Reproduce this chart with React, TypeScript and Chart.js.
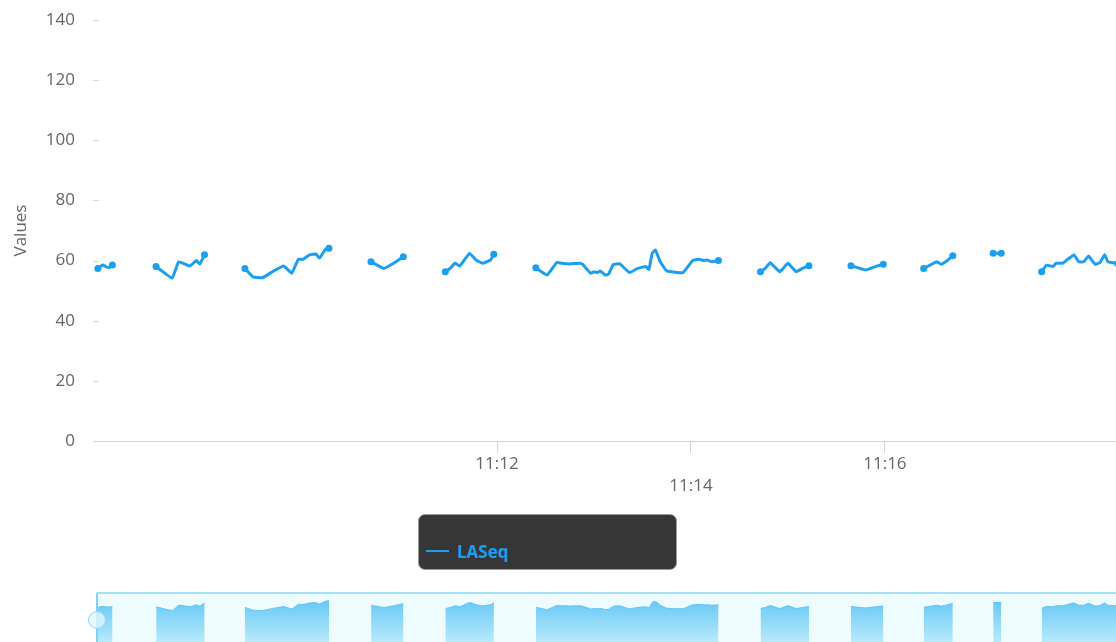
import React, { useEffect, useRef } from 'react';
import { Chart, registerables } from 'chart.js';

Chart.register(...registerables);

// ---- data ----
const seriesName = 'LASeq';
const yAxisTitle = 'Values';
const times = [
  '11:07:53', '11:07:56', '11:07:58', '11:08:00', '11:08:02',
  '11:08:29', '11:08:39', '11:08:43', '11:08:50', '11:08:54', '11:08:56', '11:08:59',
  '11:09:24', '11:09:29', '11:09:35', '11:09:41', '11:09:48', '11:09:53', '11:09:57', '11:10:00', '11:10:04', '11:10:08', '11:10:10', '11:10:14', '11:10:16',
  '11:10:42', '11:10:50', '11:10:56', '11:11:02',
  '11:11:28', '11:11:31', '11:11:34', '11:11:37', '11:11:43', '11:11:47', '11:11:51', '11:11:56', '11:11:58',
  '11:12:24', '11:12:31', '11:12:37', '11:12:40', '11:12:45', '11:12:51', '11:12:53', '11:12:58', '11:13:00', '11:13:02', '11:13:04', '11:13:07', '11:13:09', '11:13:12', '11:13:16', '11:13:22', '11:13:27', '11:13:32', '11:13:34', '11:13:36', '11:13:38', '11:13:41', '11:13:45', '11:13:55', '11:14:01', '11:14:05', '11:14:08', '11:14:10', '11:14:13', '11:14:17',
  '11:14:43', '11:14:46', '11:14:49', '11:14:55', '11:15:00', '11:15:05', '11:15:09', '11:15:13',
  '11:15:39', '11:15:48', '11:15:54', '11:15:59',
  '11:16:24', '11:16:28', '11:16:32', '11:16:35', '11:16:39', '11:16:42',
  '11:17:07', '11:17:12',
  '11:17:37', '11:17:40', '11:17:44', '11:17:46', '11:17:50', '11:17:53', '11:17:57', '11:18:00', '11:18:03', '11:18:06', '11:18:10', '11:18:13', '11:18:16', '11:18:18', '11:18:21', '11:18:24',
];
const laseq = [
  57.4, 58.5, 58.0, 57.7, 58.5,
  58.0, 54.2, 59.6, 58.2, 60.0, 58.8, 61.9,
  57.4, 54.6, 54.3, 56.3, 58.2, 55.8, 60.4, 60.4, 61.9, 62.2, 60.8, 63.8, 64.1,
  59.6, 57.4, 59.1, 61.3,
  56.3, 57.4, 59.1, 58.2, 62.4, 60.2, 59.1, 60.2, 62.1,
  57.6, 55.2, 59.4, 59.1, 58.9, 59.1, 58.7, 55.8, 56.3, 56.0, 56.5, 55.2, 55.5, 58.7, 58.9, 56.0, 57.4, 58.0, 57.1, 62.4, 63.5, 59.6, 56.6, 56.0, 60.0, 60.4, 60.0, 60.2, 59.6, 60.0,
  56.3, 57.4, 59.3, 56.3, 59.1, 56.3, 57.4, 58.3,
  58.3, 56.9, 58.0, 58.8,
  57.4, 58.5, 59.6, 58.8, 60.2, 61.6,
  62.4, 62.4,
  56.3, 58.5, 58.0, 59.1, 59.1, 60.4, 61.9, 59.6, 59.6, 61.5, 58.8, 59.3, 61.9, 59.6, 59.3, 59.0,
];
const xTickTimes = ['11:12', '11:14', '11:16'];
const yTicks = [0, 20, 40, 60, 80, 100, 120, 140];
const mainRange = ['11:07:50', '11:18:23'];
const navRange = ['11:07:53', '11:18:23'];
const navYMax = 71;
const gapSeconds = 15;

// ---- style ----
const FONT = "'Open Sans', sans-serif";
const BLUE = '#1c9ff0';
const AXIS = '#ccd6eb';
const TEXT = '#666666';

const toSec = (t: string) => {
  const [h, m, s = '0'] = t.split(':');
  return +h * 3600 + +m * 60 + +s;
};
const fmt = (v: number) => {
  const h = Math.floor(v / 3600);
  const m = Math.floor((v % 3600) / 60);
  return `${h}:${String(m).padStart(2, '0')}`;
};

function buildPoints() {
  const pts: { x: number; y: number | null }[] = [];
  for (let i = 0; i < times.length; i++) {
    const s = toSec(times[i]);
    if (i > 0) {
      const p = toSec(times[i - 1]);
      if (s - p > gapSeconds) pts.push({ x: (s + p) / 2, y: null });
    }
    pts.push({ x: s, y: laseq[i] });
  }
  return pts;
}

const yTickMarks = {
  id: 'yTickMarks',
  beforeDatasetsDraw(chart: any) {
    const { ctx, chartArea, scales } = chart;
    const y = scales.y;
    ctx.save();
    ctx.strokeStyle = AXIS;
    ctx.lineWidth = 1;
    y.ticks.forEach((t: any) => {
      if (t.value === 0) return;
      const py = Math.round(y.getPixelForValue(t.value)) + 0.5;
      ctx.beginPath();
      ctx.moveTo(chartArea.left, py);
      ctx.lineTo(chartArea.left + 6, py);
      ctx.stroke();
    });
    ctx.restore();
  },
};

export default function App() {
  const mainRef = useRef<HTMLCanvasElement>(null);
  const navRef = useRef<HTMLCanvasElement>(null);

  useEffect(() => {
    const pts = buildPoints();
    const endRadius = (ctx: any) => {
      const d = ctx.dataset.data;
      const i = ctx.dataIndex;
      if (!d[i] || d[i].y == null) return 0;
      const prevGap = i === 0 || d[i - 1].y == null;
      const nextGap = i === d.length - 1 || d[i + 1].y == null;
      return prevGap || nextGap ? 3.5 : 0;
    };

    const main = new Chart(mainRef.current!, {
      type: 'line',
      data: {
        datasets: [
          {
            label: seriesName,
            data: pts as any,
            borderColor: BLUE,
            backgroundColor: BLUE,
            borderWidth: 3,
            borderJoinStyle: 'round',
            borderCapStyle: 'round',
            pointRadius: endRadius,
            pointBorderWidth: 0,
            pointHoverRadius: 0,
            tension: 0.1,
            spanGaps: false,
          },
        ],
      },
      options: {
        responsive: false,
        animation: false,
        events: [],
        layout: { autoPadding: false, padding: { top: 20, left: 0, right: 0, bottom: 0 } },
        plugins: { legend: { display: false }, tooltip: { enabled: false } },
        scales: {
          x: {
            type: 'linear',
            min: toSec(mainRange[0]),
            max: toSec(mainRange[1]),
            afterFit: (s: any) => {
              s.height = 59;
              s.paddingLeft = 0;
              s.paddingRight = 0;
            },
            afterBuildTicks: (s: any) => {
              s.ticks = xTickTimes.map((t) => ({ value: toSec(t) }));
            },
            grid: { drawOnChartArea: false, drawTicks: true, tickLength: 12, color: AXIS, lineWidth: 1 },
            border: { display: true, color: AXIS, width: 1 },
            ticks: {
              color: TEXT,
              font: { family: FONT, size: 17, lineHeight: 22 / 17 },
              padding: 0,
              maxRotation: 0,
              autoSkip: false,
              callback: (v: any, i: number) => (i % 2 === 1 ? ['', fmt(v)] : fmt(v)),
            },
          },
          y: {
            min: yTicks[0],
            max: yTicks[yTicks.length - 1],
            afterFit: (s: any) => {
              s.width = 93;
              s.paddingTop = 0;
              s.paddingBottom = 0;
            },
            afterBuildTicks: (s: any) => {
              s.ticks = yTicks.map((v) => ({ value: v }));
            },
            grid: { display: false, drawTicks: false },
            border: { display: false },
            ticks: { color: TEXT, font: { family: FONT, size: 17 }, padding: 18 },
            title: {
              display: true,
              text: yAxisTitle,
              color: TEXT,
              font: { family: FONT, size: 17 },
              padding: { top: 11, bottom: 0 },
            },
          },
        },
      },
      plugins: [yTickMarks],
    });

    const nav = new Chart(navRef.current!, {
      type: 'line',
      data: {
        datasets: [
          {
            label: seriesName,
            data: pts as any,
            borderColor: '#5cc3f3',
            borderWidth: 1,
            pointRadius: 0,
            fill: 'origin',
            backgroundColor: (ctx: any) => {
              const { chart } = ctx;
              const area = chart.chartArea;
              if (!area) return 'rgba(110,205,248,1)';
              const g = chart.ctx.createLinearGradient(0, area.top + 8, 0, area.top + 50);
              g.addColorStop(0, 'rgb(106,201,246)');
              g.addColorStop(1, 'rgb(188,235,252)');
              return g;
            },
            tension: 0.1,
            spanGaps: false,
          },
        ],
      },
      options: {
        responsive: false,
        animation: false,
        events: [],
        layout: { autoPadding: false, padding: { left: 98, right: 0, top: 0, bottom: 0 } },
        plugins: { legend: { display: false }, tooltip: { enabled: false } },
        scales: {
          x: { type: 'linear', display: false, min: toSec(navRange[0]), max: toSec(navRange[1]) },
          y: { display: false, min: 0, max: navYMax },
        },
      },
    });

    return () => {
      main.destroy();
      nav.destroy();
    };
  }, []);

  return (
    <div
      style={{
        position: 'fixed',
        left: 0,
        top: 0,
        width: 1116,
        height: 642,
        overflow: 'hidden',
        background: '#ffffff',
      }}
    >
      <canvas ref={mainRef} width={1116} height={500} style={{ position: 'absolute', left: 0, top: 0 }} />
      <div
        style={{
          position: 'absolute',
          left: 418,
          top: 514,
          width: 257,
          height: 54,
          background: '#363636',
          borderRadius: 7,
          border: '1px solid #9a9a9a',
        }}
      />
      <div style={{ position: 'absolute', left: 426, top: 550, width: 23, height: 2, background: BLUE }} />
      <span
        style={{
          position: 'absolute',
          left: 457,
          top: 543,
          fontFamily: FONT,
          fontWeight: 700,
          fontSize: 17,
          lineHeight: '17px',
          color: BLUE,
          whiteSpace: 'nowrap',
        }}
      >
        {seriesName}
      </span>
      <div
        style={{
          position: 'absolute',
          left: 96,
          top: 592,
          width: 1020,
          height: 50,
          background: '#effcff',
          borderTop: '2px solid #a6e0f9',
        }}
      />
      <canvas ref={navRef} width={1116} height={70} style={{ position: 'absolute', left: 0, top: 594 }} />
      <div style={{ position: 'absolute', left: 96, top: 594, width: 2, height: 48, background: '#7fd0f5' }} />
      <div
        style={{
          position: 'absolute',
          left: 88,
          top: 611,
          width: 16,
          height: 16,
          borderRadius: '50%',
          background: 'rgba(225,248,255,0.75)',
          border: '1.5px solid #8cd7f8',
        }}
      />
    </div>
  );
}
